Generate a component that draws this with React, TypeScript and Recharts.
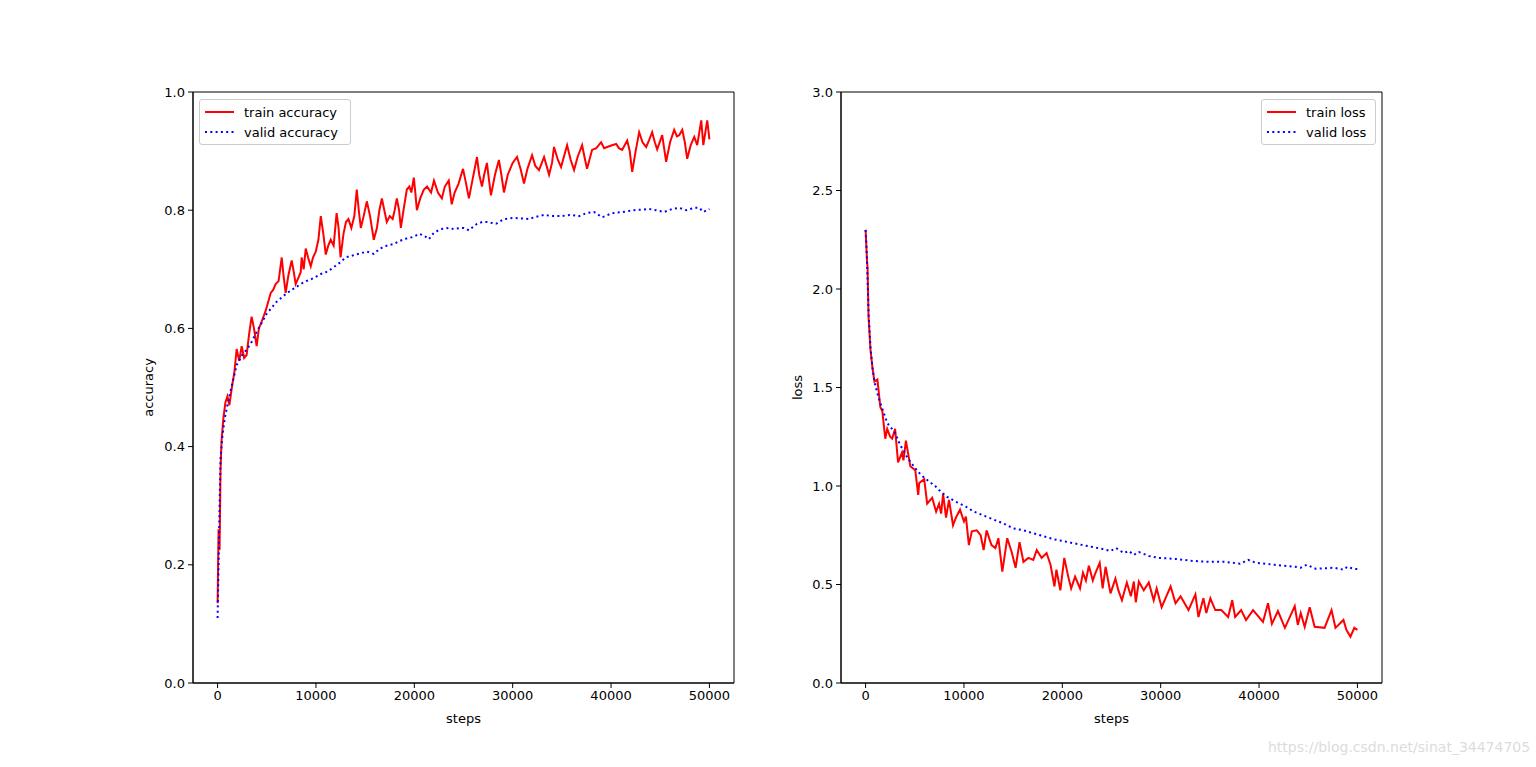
import { LineChart, Line, XAxis, YAxis, ReferenceArea, Label } from 'recharts'

const FONT = '"DejaVu Sans", Verdana, sans-serif'

const stepTicks = [0, 10000, 20000, 30000, 40000, 50000]
const accTicks = [0, 0.2, 0.4, 0.6, 0.8, 1.0]
const lossTicks = [0, 0.5, 1.0, 1.5, 2.0, 2.5, 3.0]

// [step, value] pairs
const trainAccuracy: [number, number][] = [
  [0, 0.135], [100, 0.26], [200, 0.225], [300, 0.36], [400, 0.41], [600, 0.45], [800, 0.475], [1000, 0.485],
  [1200, 0.47], [1450, 0.5], [1700, 0.525], [1940, 0.565], [2200, 0.545], [2450, 0.57], [2700, 0.55], [2950, 0.555],
  [3200, 0.59], [3460, 0.62], [3700, 0.6], [3970, 0.57], [4200, 0.6], [4450, 0.61], [4890, 0.63], [5150, 0.645],
  [5400, 0.66], [5650, 0.665], [5900, 0.675], [6200, 0.68], [6520, 0.72], [6700, 0.69], [6920, 0.66], [7200, 0.69],
  [7530, 0.715], [7700, 0.7], [7940, 0.675], [8200, 0.685], [8450, 0.695], [8550, 0.72], [8750, 0.7], [8960, 0.735],
  [9200, 0.72], [9470, 0.705], [9700, 0.72], [9980, 0.73], [10250, 0.75], [10490, 0.79], [10750, 0.76], [11000, 0.725],
  [11250, 0.74], [11500, 0.75], [11800, 0.74], [12100, 0.795], [12300, 0.77], [12500, 0.72], [12800, 0.76], [13050, 0.78],
  [13300, 0.785], [13600, 0.77], [13900, 0.79], [14150, 0.835], [14350, 0.8], [14560, 0.77], [14850, 0.79], [15170, 0.815],
  [15500, 0.79], [15880, 0.75], [16200, 0.77], [16450, 0.8], [16700, 0.82], [16950, 0.8], [17200, 0.78], [17500, 0.79],
  [17800, 0.785], [18000, 0.8], [18220, 0.82], [18450, 0.8], [18630, 0.77], [18900, 0.8], [19240, 0.835], [19500, 0.84],
  [19700, 0.83], [19950, 0.855], [20100, 0.83], [20260, 0.8], [20600, 0.82], [20970, 0.835], [21300, 0.84], [21700, 0.83],
  [22000, 0.85], [22400, 0.83], [22800, 0.82], [23100, 0.84], [23500, 0.85], [23800, 0.81], [24100, 0.83], [24500, 0.845],
  [24950, 0.87], [25200, 0.85], [25550, 0.82], [25900, 0.85], [26370, 0.89], [26600, 0.86], [26880, 0.84], [27100, 0.86],
  [27380, 0.88], [27600, 0.85], [27790, 0.825], [28200, 0.86], [28600, 0.885], [28850, 0.86], [29110, 0.83], [29500, 0.86],
  [30000, 0.88], [30440, 0.89], [30800, 0.87], [31150, 0.845], [31500, 0.87], [31970, 0.893], [32300, 0.875], [32680, 0.868],
  [33190, 0.89], [33450, 0.875], [33700, 0.86], [34000, 0.88], [34200, 0.907], [34600, 0.885], [34920, 0.873], [35200, 0.89],
  [35530, 0.91], [35900, 0.885], [36240, 0.868], [36600, 0.89], [37060, 0.91], [37300, 0.89], [37560, 0.87], [38070, 0.902],
  [38500, 0.905], [38990, 0.915], [39300, 0.905], [39600, 0.907], [40100, 0.91], [40520, 0.912], [40800, 0.905], [41130, 0.902],
  [41640, 0.918], [41900, 0.9], [42150, 0.865], [42500, 0.9], [42860, 0.932], [43200, 0.915], [43570, 0.907], [43900, 0.92],
  [44180, 0.932], [44450, 0.915], [44690, 0.903], [45200, 0.927], [45600, 0.882], [46000, 0.915], [46420, 0.936], [46700, 0.925],
  [46930, 0.927], [47240, 0.936], [47500, 0.915], [47740, 0.887], [48100, 0.91], [48460, 0.924], [48760, 0.91], [49170, 0.952],
  [49380, 0.91], [49780, 0.952], [50000, 0.92],
]

const validAccuracy: [number, number][] = [
  [0, 0.11], [100, 0.2], [200, 0.3], [300, 0.38], [500, 0.42], [750, 0.45], [1000, 0.47], [1400, 0.5],
  [1940, 0.538], [2500, 0.555], [3000, 0.565], [3460, 0.577], [4000, 0.595], [4500, 0.61], [5000, 0.625], [5400, 0.633],
  [6000, 0.645], [6500, 0.652], [6920, 0.658], [7500, 0.665], [8000, 0.67], [8450, 0.675], [9000, 0.68], [9500, 0.683],
  [9980, 0.687], [10500, 0.692], [11000, 0.695], [11500, 0.7], [12000, 0.706], [12500, 0.712], [13000, 0.72], [13850, 0.724],
  [14500, 0.727], [15200, 0.73], [15880, 0.726], [16500, 0.735], [17200, 0.74], [17920, 0.743], [18500, 0.748], [19200, 0.752],
  [19950, 0.755], [20500, 0.76], [21000, 0.757], [21480, 0.751], [22000, 0.762], [22700, 0.768], [23500, 0.77], [24000, 0.768],
  [24740, 0.77], [25040, 0.77], [25550, 0.766], [26370, 0.777], [26900, 0.78], [27380, 0.78], [28300, 0.777], [29110, 0.785],
  [30130, 0.787], [30900, 0.786], [31660, 0.785], [32400, 0.789], [33190, 0.792], [34000, 0.79], [34920, 0.79], [35800, 0.792],
  [36750, 0.79], [37500, 0.795], [38270, 0.797], [39090, 0.788], [40110, 0.795], [41200, 0.797], [42350, 0.8], [43100, 0.801],
  [43870, 0.802], [44600, 0.8], [45400, 0.797], [46200, 0.802], [46930, 0.804], [47640, 0.8], [48460, 0.804], [48970, 0.804],
  [49380, 0.797], [50000, 0.802],
]

const trainLoss: [number, number][] = [
  [0, 2.3], [150, 2.14], [200, 2.11], [300, 1.86], [500, 1.69], [700, 1.6], [900, 1.53], [1200, 1.54],
  [1500, 1.4], [1700, 1.38], [2000, 1.24], [2200, 1.29], [2500, 1.25], [2700, 1.24], [3000, 1.29], [3300, 1.12],
  [3700, 1.17], [3850, 1.13], [4100, 1.23], [4550, 1.1], [5050, 1.08], [5350, 0.955], [5450, 1.015], [5960, 1.035],
  [6260, 0.91], [6770, 0.94], [7170, 0.87], [7470, 0.91], [7680, 0.86], [7880, 0.96], [8180, 0.84], [8480, 0.93],
  [8890, 0.8], [9190, 0.84], [9600, 0.88], [10000, 0.82], [10200, 0.845], [10500, 0.7], [10800, 0.77], [11300, 0.775],
  [11700, 0.75], [12000, 0.675], [12300, 0.775], [12800, 0.7], [13200, 0.685], [13500, 0.735], [13900, 0.565], [14400, 0.735],
  [14850, 0.665], [15250, 0.585], [15650, 0.715], [16050, 0.615], [16550, 0.635], [17050, 0.625], [17400, 0.675], [17900, 0.635],
  [18400, 0.66], [18800, 0.6], [19200, 0.49], [19400, 0.575], [19800, 0.47], [20200, 0.635], [20600, 0.54], [20900, 0.48],
  [21300, 0.54], [21800, 0.48], [22100, 0.56], [22400, 0.52], [22700, 0.595], [23100, 0.52], [23300, 0.55], [23800, 0.61],
  [24100, 0.48], [24400, 0.59], [24900, 0.455], [25400, 0.53], [25700, 0.47], [26060, 0.42], [26560, 0.51], [26970, 0.44],
  [27270, 0.515], [27470, 0.41], [27780, 0.515], [28280, 0.47], [28790, 0.51], [29290, 0.42], [29590, 0.48], [30100, 0.385],
  [31010, 0.49], [31510, 0.405], [32020, 0.44], [32830, 0.37], [33530, 0.45], [33840, 0.335], [34340, 0.43], [34640, 0.355],
  [35050, 0.43], [35550, 0.37], [36160, 0.37], [36860, 0.335], [37270, 0.42], [37570, 0.335], [38180, 0.37], [38680, 0.32],
  [39390, 0.37], [40400, 0.31], [40910, 0.405], [41310, 0.3], [41920, 0.365], [42630, 0.28], [43630, 0.39], [43940, 0.295],
  [44240, 0.355], [44640, 0.285], [45150, 0.385], [45650, 0.285], [46660, 0.28], [47370, 0.37], [47770, 0.28], [48580, 0.32],
  [48880, 0.27], [49290, 0.235], [49690, 0.28], [50000, 0.27],
]

const validLoss: [number, number][] = [
  [0, 2.3], [100, 2.2], [200, 2.05], [300, 1.88], [500, 1.7], [700, 1.6], [900, 1.53], [1200, 1.47],
  [1500, 1.42], [2200, 1.32], [3000, 1.27], [3500, 1.21], [4300, 1.14], [5050, 1.09], [5650, 1.055], [6150, 1.035],
  [6660, 1.015], [7070, 1.0], [7470, 0.98], [8280, 0.945], [9190, 0.92], [10200, 0.895], [11000, 0.87], [12000, 0.85],
  [13000, 0.83], [14000, 0.81], [15000, 0.785], [16050, 0.775], [17050, 0.76], [18100, 0.745], [19100, 0.73], [20100, 0.72],
  [21100, 0.71], [22100, 0.7], [23100, 0.69], [24100, 0.68], [24900, 0.67], [25450, 0.685], [26260, 0.66], [26770, 0.67],
  [27270, 0.65], [27780, 0.665], [28790, 0.645], [29800, 0.635], [31510, 0.63], [33130, 0.62], [34850, 0.615], [36560, 0.615],
  [38080, 0.605], [38890, 0.625], [39690, 0.61], [41610, 0.6], [43630, 0.59], [44240, 0.585], [44840, 0.6], [45750, 0.58],
  [47670, 0.585], [48580, 0.575], [48980, 0.59], [49590, 0.58], [50000, 0.578],
]

const toRows = (pts: [number, number][]) => pts.map(([step, value]) => ({ step, value }))

const tickStyle = { fontSize: 13, fill: '#000', fontFamily: FONT }

function LegendBox({ labels, left, width }: { labels: [string, string]; left: number; width: number }) {
  const row = (label: string, color: string, dash?: string) => (
    <div style={{ display: 'flex', alignItems: 'center', height: 20 }}>
      <svg width={30} height={10} style={{ marginRight: 9 }}>
        <line x1={0} y1={5} x2={29} y2={5} stroke={color} strokeWidth={2} strokeDasharray={dash} />
      </svg>
      <span style={{ fontSize: 13, color: '#000', fontFamily: FONT, whiteSpace: 'nowrap' }}>{label}</span>
    </div>
  )
  return (
    <div style={{
      position: 'absolute', left, top: 27, width, height: 46, boxSizing: 'border-box',
      border: '1px solid #cccccc', borderRadius: 3, background: 'rgba(255,255,255,0.8)', padding: '2px 0 2px 5px',
    }}>
      {row(labels[0], '#ff0000')}
      {row(labels[1], '#0000ff', '2 3.3')}
    </div>
  )
}

function Panel({ left, train, valid, yTicks, yMax, yLabel, labelOffset, legendLabels, legendLeft, legendWidth }: {
  left: number; train: [number, number][]; valid: [number, number][]; yTicks: number[]; yMax: number
  yLabel: string; labelOffset: number; legendLabels: [string, string]; legendLeft: number; legendWidth: number
}) {
  return (
    <div style={{ position: 'absolute', left, top: 72, width: 641, height: 671 }}>
      <LineChart width={641} height={671} margin={{ top: 20, right: 20, left: 20, bottom: 20 }}>
        <XAxis
          dataKey="step" type="number" domain={[-2500, 52500]} ticks={stepTicks} allowDataOverflow
          tick={tickStyle} tickSize={5} tickMargin={3} stroke="#000" height={40}
        >
          <Label content={(p: any) => {
            const vb = p.viewBox
            return <text x={vb.x + vb.width / 2} y={vb.y + 35} textAnchor="middle" dominantBaseline="central"
              fontSize={13} fontFamily={FONT} fill="#000">steps</text>
          }} />
        </XAxis>
        <YAxis
          type="number" domain={[0, yMax]} ticks={yTicks} tickFormatter={(v: number) => v.toFixed(1)}
          tick={tickStyle} tickSize={5} tickMargin={3} stroke="#000" width={60}
        >
          <Label content={(p: any) => {
            const vb = p.viewBox
            const x = vb.x + labelOffset
            const y = vb.y + vb.height / 2
            return <text x={x} y={y} transform={`rotate(-90, ${x}, ${y})`} textAnchor="middle" dominantBaseline="central"
              fontSize={13} fontFamily={FONT} fill="#000">{yLabel}</text>
          }} />
        </YAxis>
        <ReferenceArea x1={-2500} x2={52500} y1={0} y2={yMax} fill="none" stroke="#000" strokeWidth={1} />
        <Line data={toRows(train)} dataKey="value" type="linear" stroke="#ff0000" strokeWidth={2}
          dot={false} activeDot={false} isAnimationActive={false} />
        <Line data={toRows(valid)} dataKey="value" type="linear" stroke="#0000ff" strokeWidth={2}
          strokeDasharray="2 3.3" dot={false} activeDot={false} isAnimationActive={false} />
      </LineChart>
      <LegendBox labels={legendLabels} left={legendLeft} width={legendWidth} />
    </div>
  )
}

export default function App() {
  return (
    <div style={{ position: 'absolute', left: 0, top: 0, width: 1536, height: 767, background: '#fff', fontFamily: FONT }}>
      <Panel left={113} train={trainAccuracy} valid={validAccuracy} yTicks={accTicks} yMax={1}
        yLabel="accuracy" labelOffset={15} legendLabels={['train accuracy', 'valid accuracy']}
        legendLeft={86} legendWidth={152} />
      <Panel left={761} train={trainLoss} valid={validLoss} yTicks={lossTicks} yMax={3}
        yLabel="loss" labelOffset={16} legendLabels={['train loss', 'valid loss']}
        legendLeft={500} legendWidth={115} />
      <div style={{ position: 'absolute', left: 1268, top: 739, fontSize: 14, color: '#dcdcdc', fontFamily: FONT, whiteSpace: 'nowrap' }}>
        https://blog.csdn.net/sinat_34474705
      </div>
    </div>
  )
}
